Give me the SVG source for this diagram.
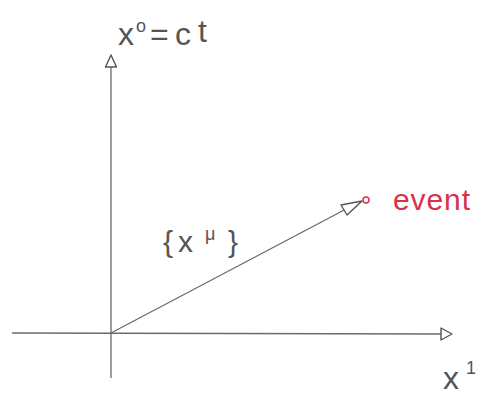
<svg xmlns="http://www.w3.org/2000/svg" width="482" height="396" viewBox="0 0 482 396">
<style>
.ax{stroke:#6a6a6a;stroke-width:1.3;fill:none}
.hd{fill:#fff;stroke:#555;stroke-width:1.4;stroke-linejoin:round}
.lb{font-family:"Liberation Sans","DejaVu Sans",sans-serif;fill:#555}
.red{fill:#d8324a}
</style>
<rect width="482" height="396" fill="#fff"/>
<g id="connectors">
<line class="ax" x1="111" y1="378" x2="111" y2="67"/>
<polygon class="hd" points="111,55 105.5,67 116.5,67"/>
<line class="ax" x1="12" y1="333" x2="441" y2="334"/>
<polygon class="hd" points="452,334 441,328 441,340"/>
<line class="ax" x1="111" y1="333" x2="348" y2="208"/>
<polygon class="hd" points="362,201 341,205 347,215"/>
</g>
<g id="axis-x0"><text class="lb" x="118" y="45" font-size="32"><tspan>x</tspan><tspan font-size="18" x="136" y="32">o</tspan><tspan x="150" y="45">=</tspan><tspan x="175" y="45">c</tspan><tspan x="198" y="42">t</tspan></text></g>
<g id="axis-x1"><text class="lb" x="443" y="389" font-size="32">x<tspan font-size="18" x="466" y="374">1</tspan></text></g>
<g id="event"><circle cx="366" cy="200" r="3" fill="none" stroke="#d8324a" stroke-width="1.5"/>
<text class="lb red" x="393" y="210" font-size="30" textLength="77" lengthAdjust="spacing">event</text></g>
<g id="vector-label"><text class="lb" x="163" y="252" font-size="30">{<tspan x="178">x</tspan><tspan font-size="18" x="205" y="240">μ</tspan><tspan x="228" y="252">}</tspan></text></g>
</svg>
